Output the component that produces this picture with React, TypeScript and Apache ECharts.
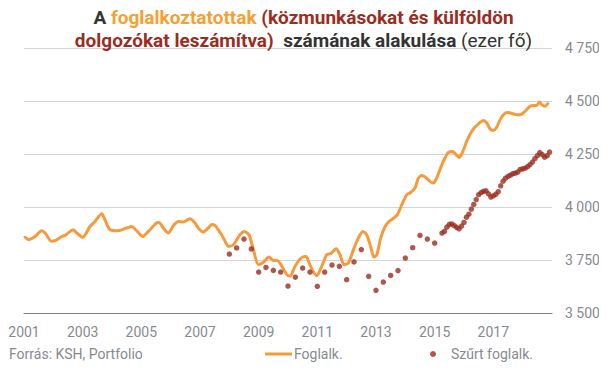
import React, { useEffect, useRef } from "react";
import * as echarts from "echarts";

// Foglalkoztatottak (line) readings: decimal year / thousand persons
const lineYears = [
  2001.0, 2001.03, 2001.15, 2001.38, 2001.6, 2001.72, 2001.94, 2002.06, 2002.29, 2002.4, 2002.68, 2002.8,
  2003.0, 2003.25, 2003.42, 2003.65, 2003.76, 2003.93, 2004.22, 2004.5, 2004.67, 2004.84, 2005.05, 2005.24,
  2005.52, 2005.6, 2005.75, 2005.92, 2006.09, 2006.26, 2006.43, 2006.66, 2006.83, 2006.94, 2007.11, 2007.28,
  2007.4, 2007.51, 2007.62, 2007.8, 2007.97, 2008.14, 2008.36, 2008.51, 2008.67, 2008.82, 2008.99, 2009.16,
  2009.35, 2009.5, 2009.65, 2009.76, 2009.96, 2010.07, 2010.24, 2010.41, 2010.58, 2010.64, 2010.81, 2010.98,
  2011.15, 2011.32, 2011.46, 2011.64, 2011.77, 2011.91, 2012.06, 2012.23, 2012.4, 2012.55, 2012.68, 2012.8,
  2012.93, 2013.03, 2013.16, 2013.31, 2013.45, 2013.61, 2013.73, 2013.88, 2014.05, 2014.16, 2014.33, 2014.44,
  2014.56, 2014.67, 2014.84, 2014.96, 2015.07, 2015.18, 2015.32, 2015.47, 2015.62, 2015.73, 2015.84, 2015.96,
  2016.09, 2016.23, 2016.38, 2016.52, 2016.66, 2016.78, 2016.89, 2017.0, 2017.12, 2017.23, 2017.4, 2017.51,
  2017.66, 2017.8, 2017.91, 2018.08, 2018.25, 2018.36, 2018.48, 2018.57, 2018.65, 2018.76, 2018.88,
];
const lineValues = [
  3855, 3857, 3846, 3861, 3888, 3877, 3838, 3841, 3861, 3866, 3893, 3877,
  3857, 3908, 3932, 3968, 3940, 3893, 3888, 3901, 3908, 3888, 3861, 3885,
  3925, 3927, 3901, 3877, 3912, 3932, 3929, 3945, 3925, 3901, 3882, 3901,
  3917, 3913, 3893, 3854, 3814, 3822, 3869, 3885, 3869, 3799, 3728, 3739,
  3764, 3748, 3747, 3728, 3681, 3674, 3720, 3755, 3767, 3764, 3708, 3676,
  3720, 3775, 3780, 3803, 3775, 3728, 3736, 3799, 3854, 3885, 3869, 3822,
  3764, 3775, 3854, 3908, 3932, 3948, 3964, 4011, 4058, 4066, 4090, 4135,
  4149, 4142, 4121, 4113, 4137, 4176, 4223, 4258, 4262, 4247, 4234, 4262,
  4309, 4349, 4377, 4396, 4408, 4396, 4368, 4361, 4377, 4412, 4443, 4446,
  4440, 4435, 4435, 4451, 4475, 4479, 4479, 4495, 4483, 4475, 4493,
];

// Szűrt foglalkoztatottak (dots): quarterly from 2008 Q1, then monthly from 2015.25
const filteredQuarterStart = 2008.0;
const filteredQuarterly = [
  3778, 3807, 3849, 3802, 3693, 3715, 3701, 3693, 3627, 3669, 3712, 3693,
  3626, 3693, 3726, 3720, 3657, 3741, 3799, 3673, 3607, 3646, 3677, 3700,
  3759, 3808, 3866, 3849, 3830,
];
const filteredMonthlyStart = 2015.25;
const filteredMonthly = [
  3877, 3885, 3905, 3918, 3920, 3912, 3904, 3897, 3910, 3927, 3952, 3966,
  3990, 4012, 4035, 4058, 4068, 4074, 4076, 4062, 4047, 4053, 4060, 4072,
  4100, 4122, 4136, 4145, 4150, 4157, 4160, 4165, 4177, 4180, 4183, 4190,
  4200, 4212, 4228, 4242, 4257, 4247, 4235, 4242, 4259,
];

const seriesNames = ["Foglalk.", "Szűrt foglalk."];
const sourceText = "Forrás: KSH, Portfolio";

const FONT = "Roboto, 'Noto Sans', sans-serif";
const GRAY = "#868a90";
const ORANGE = "#F79A3C";
const DARKRED = "#9B2D1F";

export default function App() {
  const ref = useRef<HTMLDivElement>(null);

  useEffect(() => {
    if (!ref.current) return;
    const chart = echarts.init(ref.current, undefined, { renderer: "svg" });

    const lineData = lineYears.map((y, i) => [y, lineValues[i]]);
    const dotData = [
      ...filteredQuarterly.map((v, i) => [filteredQuarterStart + i * 0.25, v]),
      ...filteredMonthly.map((v, i) => [filteredMonthlyStart + i / 12, v]),
    ];

    const t = (color: string, weight: string) => ({
      color,
      fontWeight: weight,
      fontSize: 19,
      fontFamily: FONT,
      lineHeight: 23,
    });

    chart.setOption({
      animation: false,
      backgroundColor: "#ffffff",
      textStyle: { fontFamily: FONT },
      title: [
        {
          left: "center",
          top: 1,
          text:
            "{d|A }{o|foglalkoztatottak }{r|(közmunkásokat és külföldön}\n{r|dolgozókat leszámítva)}{d|  számának alakulása }{n|(ezer fő)}",
          textStyle: {
            fontFamily: FONT,
            lineHeight: 23,
            rich: {
              d: t("#333333", "bold"),
              o: t("#F7A030", "bold"),
              r: t(DARKRED, "bold"),
              n: t("#333333", "normal"),
            },
          },
        },
        {
          left: 4,
          top: 342,
          text: sourceText,
          textStyle: { fontFamily: FONT, fontSize: 14, fontWeight: "normal", color: GRAY },
        },
      ],
      legend: [
        {
          left: 260,
          top: 342,
          data: [{ name: seriesNames[0], icon: "rect" }],
          itemWidth: 27,
          itemHeight: 3,
          textStyle: { fontFamily: FONT, fontSize: 14, color: GRAY, padding: [0, 0, 0, -3] },
        },
        {
          left: 425,
          top: 342,
          data: [{ name: seriesNames[1], icon: "circle" }],
          itemWidth: 6,
          itemHeight: 6,
          textStyle: { fontFamily: FONT, fontSize: 14, color: GRAY, padding: [0, 0, 0, 10] },
        },
      ],
      grid: { left: 24, right: 55, top: 48, bottom: 61, containLabel: false },
      xAxis: {
        type: "value",
        min: 2001,
        max: 2019,
        interval: 2,
        axisLine: { show: true, lineStyle: { color: "#7f7f7f", width: 1 } },
        axisTick: { show: false },
        splitLine: { show: false },
        axisLabel: {
          showMaxLabel: false,
          margin: 12,
          fontFamily: FONT,
          fontSize: 14,
          color: GRAY,
          formatter: (v: number) => String(v),
        },
      },
      yAxis: {
        type: "value",
        position: "right",
        min: 3500,
        max: 4750,
        interval: 250,
        axisLine: { show: false },
        axisTick: { show: false },
        splitLine: { lineStyle: { color: "#d4d4d4", width: 1 } },
        axisLabel: {
          margin: 13,
          fontFamily: FONT,
          fontSize: 14,
          color: GRAY,
          formatter: (v: number) => String(v).replace(/\B(?=(\d{3})+(?!\d))/g, " "),
        },
      },
      series: [
        {
          name: seriesNames[0],
          type: "line",
          data: lineData,
          showSymbol: false,
          smooth: 0.25,
          lineStyle: { color: ORANGE, width: 3 },
          itemStyle: { color: ORANGE },
          z: 2,
        },
        {
          name: seriesNames[1],
          type: "scatter",
          data: dotData,
          symbol: "circle",
          symbolSize: 5.5,
          itemStyle: { color: DARKRED },
          z: 3,
        },
      ],
    });

    return () => chart.dispose();
  }, []);

  return <div ref={ref} style={{ width: 607, height: 374, margin: -8 }} />;
}
